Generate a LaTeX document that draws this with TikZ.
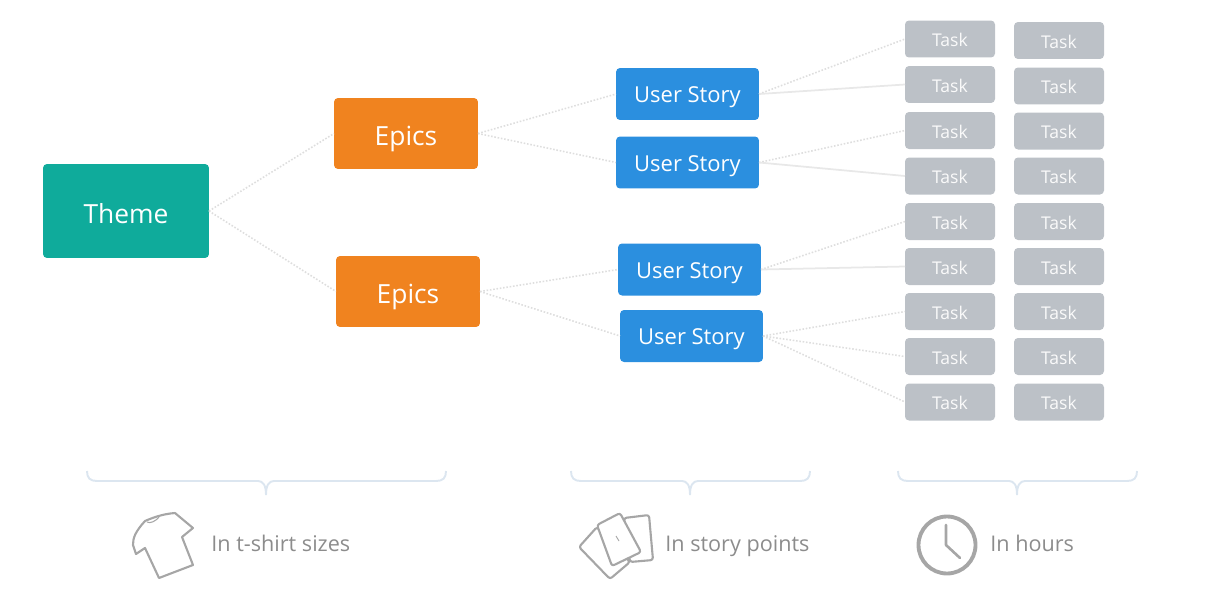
\documentclass[tikz,border=0pt]{standalone}
\usepackage{fontspec}
\setmainfont{Open Sans}
\usetikzlibrary{positioning}
\usetikzlibrary{math}
\definecolor{themecol}{HTML}{0FAB9B}
\definecolor{epiccol}{HTML}{F0831F}
\definecolor{storycol}{HTML}{2B8FDF}
\definecolor{taskcol}{HTML}{BCC1C7}
\definecolor{linkcol}{HTML}{DEDEDE}
\definecolor{bracecol}{HTML}{DCE6F0}
\definecolor{iconcol}{HTML}{A6A6A6}
\tikzset{
	card/.style={rounded corners=0.08cm, inner sep=0pt, outer sep=0pt, text=white, text depth=0pt},
	themecard/.style={card, fill=themecol, minimum width=3.32cm, minimum height=1.88cm, text height=14pt, font=\fontsize{15}{18}\selectfont},
	epiccard/.style={card, fill=epiccol, minimum width=2.88cm, minimum height=1.42cm, text height=13.5pt, font=\fontsize{15}{18}\selectfont},
	storycard/.style={card, fill=storycol, minimum width=2.86cm, minimum height=1.04cm, text height=10pt, font=\fontsize{12.5}{15}\selectfont},
	taskcard/.style={card, fill=taskcol, minimum width=1.8cm, minimum height=0.74cm, text=white!92!taskcol, text height=8.6pt, font=\fontsize{10}{12}\selectfont},
	link/.style={draw=linkcol!70!white, line width=1pt},
	dotlink/.style={draw=linkcol, line width=0.9pt, densely dotted},
	bracket/.style={draw=bracecol, line width=1.1pt},
	icon/.style={draw=iconcol, line width=1.2pt, line join=round},
	caption/.style={inner sep=0pt, anchor=west, text=black!45, text height=8.8pt, text depth=0pt, font=\fontsize{12.3}{15}\selectfont}
}
\begin{document}
\begin{tikzpicture}[x=0.02cm,y=-0.02cm]
	\useasboundingbox (0,0) rectangle (1227,602);
	\node[themecard] (theme) at (126,211) {Theme};
	\node[epiccard] (epicsa) at (406,133.5) {Epics};
	\node[epiccard] (epicsb) at (408,291.5) {Epics};
	\node[storycard] (storya) at (687.5,94) {User Story};
	\node[storycard] (storyb) at (687.5,162.5) {User Story};
	\node[storycard] (storyc) at (689.5,269.5) {User Story};
	\node[storycard] (storyd) at (691.5,336) {User Story};
	% the two task columns
	\foreach \n/\yl/\yr in {1/39/40.5, 2/84.5/86, 3/130.5/131, 4/176/176, 5/221.5/221.5, 6/266.5/266.5, 7/311.5/311.5, 8/356.5/356.5, 9/402/402}{
		\node[taskcard] (taskl\n) at (950,\yl) {Task};
		\node[taskcard] (taskr\n) at (1059,\yr) {Task};
	}
	\draw[dotlink] (theme.east) -- (epicsa.west);
	\draw[dotlink] (theme.east) -- (epicsb.west);
	\draw[dotlink] (epicsa.east) -- (storya.west);
	\draw[dotlink] (epicsa.east) -- (storyb.west);
	\draw[dotlink] (epicsb.east) -- (storyc.west);
	\draw[dotlink] (epicsb.east) -- (storyd.west);
	\draw[dotlink] (storya.east) -- (taskl1.west);
	\draw[link] (storya.east) -- (taskl2.west);
	\draw[dotlink] (storyb.east) -- (taskl3.west);
	\draw[link] (storyb.east) -- (taskl4.west);
	\draw[dotlink] (storyc.east) -- (taskl5.west);
	\draw[link] (storyc.east) -- (taskl6.west);
	\draw[dotlink] (storyd.east) -- (taskl7.west);
	\draw[dotlink] (storyd.east) -- (taskl8.west);
	\draw[dotlink] (storyd.east) -- (taskl9.west);
	% braces
	\foreach \lx/\mx/\ux in {87/266/446, 571/690/810, 898/1017/1137}{
		\draw[bracket] (\lx,471) .. controls (\lx,478) and (\lx+3,481) .. (\lx+10,481) -- (\mx-8,481) .. controls (\mx-3,481) and (\mx,485) .. (\mx,495);
		\draw[bracket] (\ux,471) .. controls (\ux,478) and (\ux-3,481) .. (\ux-10,481) -- (\mx+8,481) .. controls (\mx+3,481) and (\mx,485) .. (\mx,495);
	}
	% shirt
	\draw[icon] (145,521) .. controls (152,518) and (162,514) .. (175,513) -- (193,528) -- (182,537) -- (193,565) -- (159,578) -- (145,548) -- (136,554) -- (133,545) .. controls (133,538) and (135,532) .. (145,521) -- cycle;
	\draw[icon, line width=0.6pt] (147,522) .. controls (150,524) and (156,521) .. (159,517);
	\node[caption] (sizes) at (211,544) {In t-shirt sizes};
	% cards
	\draw[icon, fill=white, rounded corners=0.05cm] (579,547) -- (597,527) -- (630,562) -- (610,579) -- cycle;
	\draw[icon, fill=white, rounded corners=0.05cm] (624,518) -- (649,515) -- (653,560) -- (630,562) -- cycle;
	\draw[icon, fill=white, rounded corners=0.05cm] (597,525) -- (620,513) -- (641,552) -- (612,566) -- cycle;
	\draw[icon, line width=0.5pt] (616,536) -- (619,541);
	\node[caption] (points) at (665,544) {In story points};
	% clock
	\draw[icon, line width=2.2pt] (947,545) circle (28.5);
	\draw[icon, line width=1.5pt, line cap=round] (946,525) -- (946,545) -- (960,558);
	\node[caption] (hours) at (990,544) {In hours};
\end{tikzpicture}
\end{document}
